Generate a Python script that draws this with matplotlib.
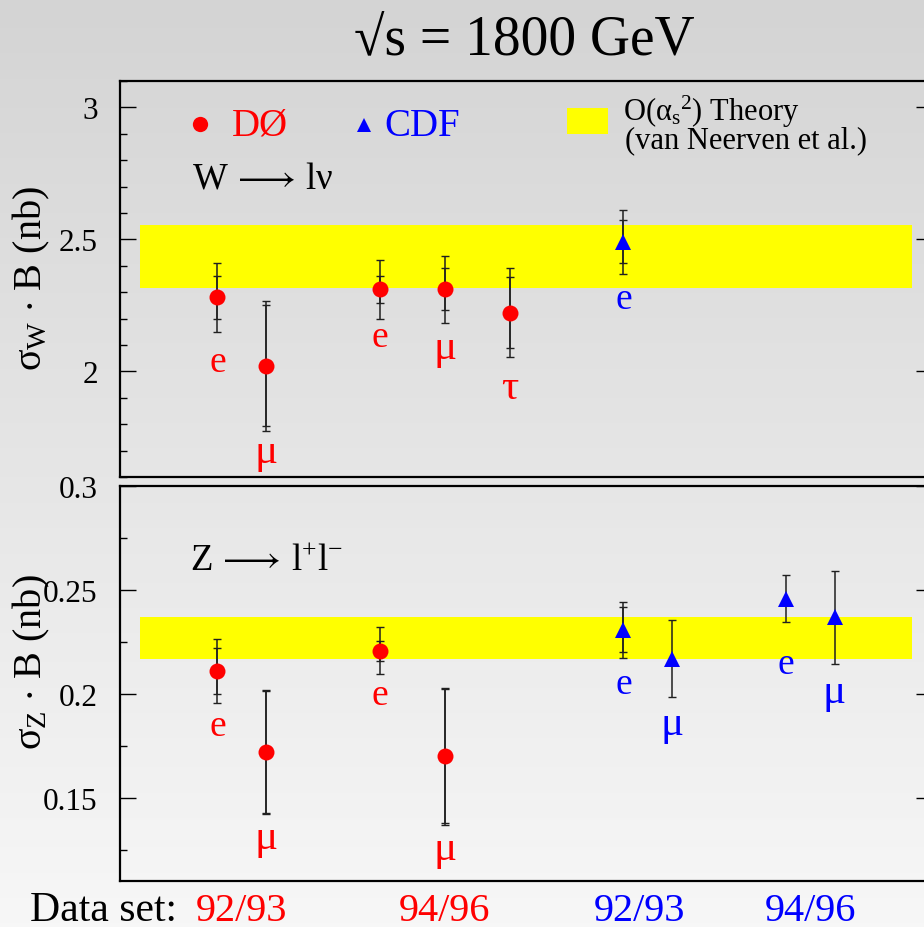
import numpy as np
import matplotlib
matplotlib.use("Agg")
import matplotlib.pyplot as plt
from matplotlib.colors import LinearSegmentedColormap
from matplotlib.ticker import MultipleLocator, FixedLocator, FormatStrFormatter
from matplotlib.patches import Rectangle

plt.rcParams['font.family'] = ['Liberation Serif', 'DejaVu Serif']
plt.rcParams['mathtext.fontset'] = 'custom'
plt.rcParams['mathtext.rm'] = 'Liberation Serif'
plt.rcParams['mathtext.it'] = 'Liberation Serif'
plt.rcParams['mathtext.bf'] = 'Liberation Serif:bold'
plt.rcParams['mathtext.fallback'] = 'stix'

RED, BLUE, YEL = '#ff0000', '#0000ff', '#ffff00'

# ---- W -> l nu (nb) ----
d0_w_x = [1.2, 1.8, 3.2, 4.0, 4.8]
d0_w_val = [2.281, 2.022, 2.311, 2.311, 2.222]
d0_w_stat = [0.082, 0.230, 0.052, 0.079, 0.134]
d0_w_tot = [0.130, 0.246, 0.112, 0.128, 0.168]
d0_w_lab = ['e', 'μ', 'e', 'μ', 'τ']
d0_w_laby = [2.00, 1.658, 2.096, 2.052, 1.90]

cdf_w_x = [6.2]
cdf_w_val = [2.491]
cdf_w_stat = [0.081]
cdf_w_tot = [0.122]
cdf_w_lab = ['e']
cdf_w_laby = [2.239]

w_band = (2.315, 2.555)

# ---- Z -> l+ l- (nb) ----
d0_z_x = [1.2, 1.8, 3.2, 4.0]
d0_z_val = [0.211, 0.172, 0.2208, 0.170]
d0_z_stat = [0.0112, 0.0293, 0.0048, 0.0322]
d0_z_tot = [0.0156, 0.0300, 0.0112, 0.0329]
d0_z_lab = ['e', 'μ', 'e', 'μ']
d0_z_laby = [0.180, 0.126, 0.195, 0.1205]

cdf_z_x = [6.2, 6.8, 8.2, 8.8]
cdf_z_val = [0.2309, 0.217, 0.2458, 0.2369]
cdf_z_stat = [0.0109, np.nan, np.nan, np.nan]
cdf_z_tot = [0.0134, 0.0187, 0.0113, 0.0223]
cdf_z_lab = ['e', 'μ', 'e', 'μ']
cdf_z_laby = [0.2002, 0.1806, 0.210, 0.1959]

z_band = (0.217, 0.237)

periods = ['92/93', '94/96', '92/93', '94/96']
period_x = [1.5, 4.0, 6.4, 8.5]
period_col = [RED, RED, BLUE, BLUE]

fig = plt.figure(figsize=(9.24, 9.28), dpi=100)

# gradient background
bg = fig.add_axes([0, 0, 1, 1], zorder=-10)
cmap = LinearSegmentedColormap.from_list('bg', ['#d4d4d4', '#f7f7f7'])
bg.imshow(np.linspace(0, 1, 256)[:, None], aspect='auto', cmap=cmap,
          extent=[0, 1, 0, 1], origin='upper')
bg.set_axis_off()

ax_w = fig.add_axes([120 / 924, 1 - 478 / 928, 812 / 924, 396 / 928])
ax_z = fig.add_axes([120 / 924, 1 - 882 / 928, 812 / 924, 395 / 928])


def draw_set(ax, x, val, stat, tot, col, marker, ms):
    ax.errorbar(x, val, yerr=tot, fmt='none', ecolor='#202020', elinewidth=1.1,
                capsize=2.6, capthick=1.0, zorder=3)
    ax.errorbar(x, val, yerr=stat, fmt='none', ecolor='#202020', elinewidth=1.1,
                capsize=2.6, capthick=1.0, zorder=3)
    ax.plot(x, val, linestyle='none', marker=marker, color=col, ms=ms,
            markeredgewidth=0, zorder=4)


def draw_labels(ax, x, ys, labs, col):
    for xi, yi, t in zip(x, ys, labs):
        size = 27 if t == 'e' else 31
        ax.text(xi, yi, t, ha='center', va='baseline', color=col, fontsize=size)


for ax, band, ylim in [(ax_w, w_band, (1.6, 3.1)), (ax_z, z_band, (0.11, 0.30))]:
    ax.set_facecolor('none')
    ax.set_xlim(0, 10)
    ax.set_ylim(*ylim)
    ax.add_patch(Rectangle((0.25, band[0]), 9.5, band[1] - band[0],
                           facecolor=YEL, edgecolor='none', zorder=1))
    for s in ['top', 'bottom', 'left', 'right']:
        ax.spines[s].set_linewidth(1.6)
    ax.tick_params(which='both', direction='in', left=True, right=True,
                   bottom=False, top=False, labelbottom=False, labelsize=22.5,
                   pad=16, width=1.0)
    ax.tick_params(which='major', length=11.5)
    ax.tick_params(which='minor', length=5)

ax_w.yaxis.set_major_locator(FixedLocator([2.0, 2.5, 3.0]))
ax_w.yaxis.set_minor_locator(MultipleLocator(0.1))
ax_w.yaxis.set_major_formatter(FormatStrFormatter('%g'))
ax_z.yaxis.set_major_locator(FixedLocator([0.15, 0.2, 0.25, 0.3]))
ax_z.yaxis.set_minor_locator(MultipleLocator(0.025))
ax_z.yaxis.set_major_formatter(FormatStrFormatter('%g'))

draw_set(ax_w, d0_w_x, d0_w_val, d0_w_stat, d0_w_tot, RED, 'o', 11.5)
draw_set(ax_w, cdf_w_x, cdf_w_val, cdf_w_stat, cdf_w_tot, BLUE, '^', 11)
draw_labels(ax_w, d0_w_x, d0_w_laby, d0_w_lab, RED)
draw_labels(ax_w, cdf_w_x, cdf_w_laby, cdf_w_lab, BLUE)

draw_set(ax_z, d0_z_x, d0_z_val, d0_z_stat, d0_z_tot, RED, 'o', 11.5)
draw_set(ax_z, cdf_z_x, cdf_z_val, cdf_z_stat, cdf_z_tot, BLUE, '^', 11)
draw_labels(ax_z, d0_z_x, d0_z_laby, d0_z_lab, RED)
draw_labels(ax_z, cdf_z_x, cdf_z_laby, cdf_z_lab, BLUE)

# legend-like annotations in the W panel
T = ax_w.transAxes
ax_w.plot([0.0985], [0.891], 'o', color=RED, ms=11, mew=0, transform=T, clip_on=False)
ax_w.text(0.138, 0.864, 'DØ', color=RED, fontsize=28, transform=T)
ax_w.plot([0.301], [0.889], '^', color=BLUE, ms=10, mew=0, transform=T, clip_on=False)
ax_w.text(0.326, 0.864, 'CDF', color=BLUE, fontsize=28, transform=T)
ax_w.add_patch(Rectangle((0.5505, 0.866), 0.0505, 0.066, facecolor=YEL,
                         edgecolor='none', transform=T))
ax_w.text(0.6195, 0.902, r'O($\alpha_{s}{}^{2}$) Theory', fontsize=22, transform=T)
ax_w.text(0.622, 0.833, '(van Neerven et al.)', fontsize=22, transform=T)
ax_w.text(0.0887, 0.732, r'$\mathrm{W}\,\longrightarrow\,\mathrm{l}\nu$', fontsize=26.5,
          transform=T)
ax_z.text(0.0862, 0.79, r'$\mathrm{Z}\,\longrightarrow\,\mathrm{l}^{+}\mathrm{l}^{-}$',
          fontsize=26.5, transform=ax_z.transAxes)

# axis titles
fig.text(524 / 924, 1 - 55 / 928, '√s = 1800 GeV', ha='center', va='baseline',
         fontsize=40)
fig.text(0.034, 1 - 278 / 928, r'$\sigma_{W}$ $\cdot$ B (nb)', rotation=90,
         ha='center', va='center', fontsize=29)
fig.text(0.034, 1 - 662 / 928, r'$\sigma_{Z}$ $\cdot$ B (nb)', rotation=90,
         ha='center', va='center', fontsize=29)

# data-set row
fig.text(30 / 924, 1 - 921 / 928, 'Data set:', ha='left', va='baseline', fontsize=30)
for px, t, c in zip(period_x, periods, period_col):
    ax_z.text(px, -0.099, t, color=c, fontsize=29, ha='center', va='baseline',
              transform=ax_z.get_xaxis_transform(), clip_on=False)

fig.savefig('out.png', dpi=100)
